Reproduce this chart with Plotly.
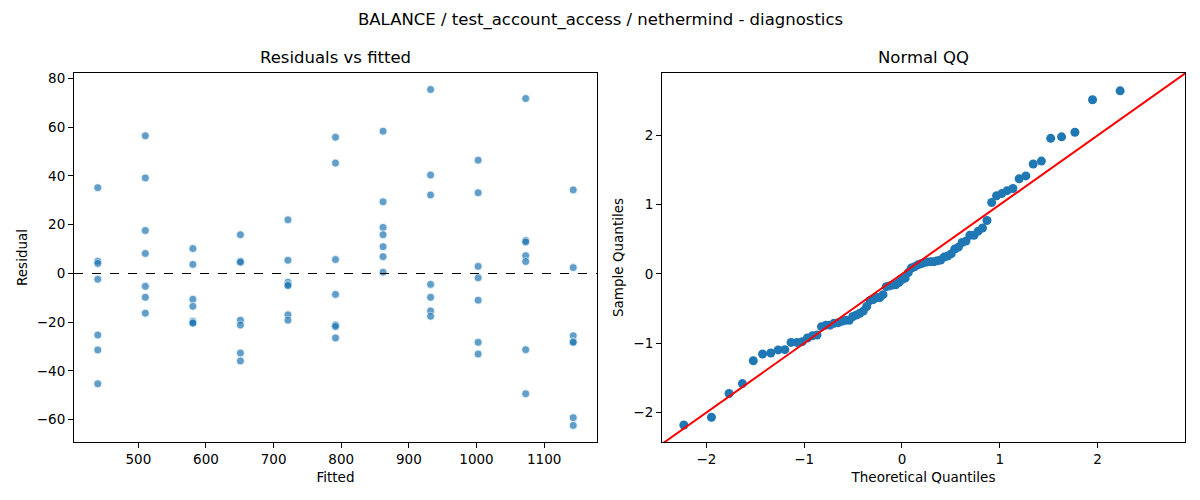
import numpy as np
import plotly.graph_objects as go
from statistics import NormalDist

# ---- data ----
fitted_levels = [440.0, 510.3, 580.6, 650.9, 721.2, 791.5, 861.8, 932.1, 1002.4, 1072.7, 1143.0]
residuals_by_level = [
    [35.2, 5.0, 4.1, -2.4, -25.3, -31.4, -45.3],
    [56.5, 39.2, 17.6, 8.2, -5.3, -9.8, -16.3],
    [10.2, 3.7, -10.6, -13.5, -19.6, -20.2, -20.4],
    [15.9, 5.0, 4.6, -19.2, -21.2, -32.7, -35.9],
    [22.0, 5.4, -3.6, -4.6, -5.0, -17.0, -19.2],
    [55.9, 45.3, 5.7, -8.6, -21.2, -21.8, -26.5],
    [58.4, 29.4, 18.9, 15.9, 11.0, 6.9, 0.5],
    [75.5, 40.4, 32.2, -4.5, -9.8, -15.4, -17.6],
    [46.5, 33.1, 2.9, -1.8, -11.0, -28.3, -33.1],
    [71.8, 13.5, 12.9, 7.3, 4.9, -31.3, -49.4],
    [34.3, 2.4, -25.6, -28.0, -28.3, -59.2, -62.4],
]
left_xticks = [500, 600, 700, 800, 900, 1000, 1100]
left_yticks = [-60, -40, -20, 0, 20, 40, 60, 80]
qq_ticks = [-2, -1, 0, 1, 2]

fitted = []
resid = []
for lvl, vals in zip(fitted_levels, residuals_by_level):
    for v in vals:
        fitted.append(lvl)
        resid.append(v)
resid_arr = np.array(resid)

# Normal QQ (fit=True style: standardized sample quantiles, plotting positions i/(n+1))
n = len(resid_arr)
sample_q = np.sort((resid_arr - resid_arr.mean()) / resid_arr.std())
nd = NormalDist()
theo_q = np.array([nd.inv_cdf(i / (n + 1)) for i in range(1, n + 1)])

FONT = "DejaVu Sans"
BLUE = "#1f77b4"

fig = go.Figure()

fig.add_trace(go.Scatter(
    x=fitted, y=resid, mode="markers",
    marker=dict(size=8, color=BLUE, opacity=0.7, line=dict(color="white", width=0.75)),
    xaxis="x", yaxis="y", showlegend=False, hoverinfo="skip"))

qx_range = [-2.455, 2.895]
qy_range = [-2.43, 2.905]
lo = min(qx_range[0], qy_range[0])
hi = max(qx_range[1], qy_range[1])

fig.add_trace(go.Scatter(
    x=theo_q, y=sample_q, mode="markers",
    marker=dict(size=9, color=BLUE),
    xaxis="x2", yaxis="y2", showlegend=False, hoverinfo="skip"))
fig.add_trace(go.Scatter(
    x=[lo, hi], y=[lo, hi], mode="lines",
    line=dict(color="red", width=2),
    xaxis="x2", yaxis="y2", showlegend=False, hoverinfo="skip"))

axis_common = dict(
    showgrid=False, zeroline=False, showline=True, linecolor="black", linewidth=1.1,
    mirror=True, ticks="outside", ticklen=5, tickwidth=1.1, tickcolor="black",
    tickfont=dict(family=FONT, size=13.5, color="black"),
)

fmin = min(fitted_levels); fmax = max(fitted_levels)
fpad = 0.05 * (fmax - fmin)
rmin = resid_arr.min(); rmax = resid_arr.max()
rpad = 0.05 * (rmax - rmin)

fig.update_layout(
    width=1200, height=500,
    margin=dict(l=0, r=0, t=0, b=0),
    paper_bgcolor="white", plot_bgcolor="white",
    font=dict(family=FONT, color="black"),
    xaxis=dict(domain=[74/1200, 597/1200], range=[fmin - fpad, fmax + fpad],
               tickvals=left_xticks, anchor="y",
               title=dict(text="Fitted", font=dict(family=FONT, size=13.5), standoff=6),
               **axis_common),
    yaxis=dict(domain=[1 - 442/500, 1 - 71/500], range=[rmin - rpad, rmax + rpad],
               tickvals=left_yticks, anchor="x",
               title=dict(text="Residual", font=dict(family=FONT, size=13.5), standoff=6),
               **axis_common),
    xaxis2=dict(domain=[662/1200, 1185/1200], range=qx_range,
                tickvals=qq_ticks, anchor="y2",
                title=dict(text="Theoretical Quantiles", font=dict(family=FONT, size=13.5), standoff=6),
                **axis_common),
    yaxis2=dict(domain=[1 - 442/500, 1 - 71/500], range=qy_range,
                tickvals=qq_ticks, anchor="x2",
                title=dict(text="Sample Quantiles", font=dict(family=FONT, size=13.5), standoff=6),
                **axis_common),
    shapes=[dict(type="line", xref="x domain", yref="y", x0=0, x1=1, y0=0, y1=0,
                 line=dict(color="black", width=1.1, dash="dash"))],
    annotations=[
        dict(text="BALANCE / test_account_access / nethermind - diagnostics",
             xref="paper", yref="paper", x=0.5, y=1 - 18/500, xanchor="center", yanchor="middle",
             showarrow=False, font=dict(family=FONT, size=16.5, color="black")),
        dict(text="Residuals vs fitted", xref="paper", yref="paper",
             x=(74 + 597) / 2 / 1200, y=1 - 56/500, xanchor="center", yanchor="middle",
             showarrow=False, font=dict(family=FONT, size=16.5, color="black")),
        dict(text="Normal QQ", xref="paper", yref="paper",
             x=(662 + 1185) / 2 / 1200, y=1 - 56/500, xanchor="center", yanchor="middle",
             showarrow=False, font=dict(family=FONT, size=16.5, color="black")),
    ],
)

fig.write_html("out.html", config={"displayModeBar": False},
               post_script="document.body.style.margin='0';document.body.style.overflow='hidden';")
